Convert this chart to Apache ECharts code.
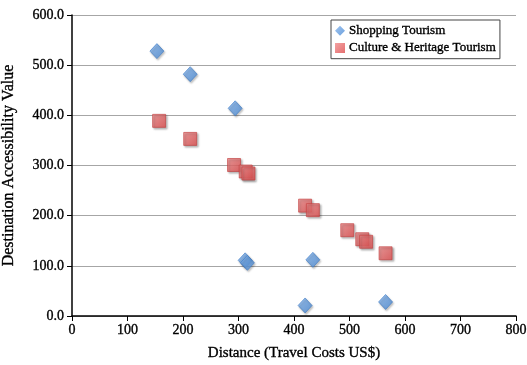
<!DOCTYPE html>
<html><head><meta charset="utf-8">
<script src="https://cdn.jsdelivr.net/npm/echarts@6/dist/echarts.min.js"></script>
<style>html,body{margin:0;padding:0;background:#fff}#c{width:527px;height:365px}</style>
</head><body><div id="c"></div>
<script>
const seriesNames = ['Shopping Tourism', 'Culture & Heritage Tourism'];
const shoppingTourism = [[153,528],[213,482],[294,414],[312,111],[316,106],[434,112],[420,21],[565,28]];
const cultureHeritage = [[157,389],[213,353],[292,301],[313,288],[318,284],[420,220],[434,211],[496,171],[523,153],[530,148],[565,125]];
const xTitle = 'Distance (Travel Costs US$)';
const yTitle = 'Destination Accessibility Value';

const FONT = 'Liberation Serif';
const heavy = {textBorderColor:'#000', textBorderWidth:0.35};
const chart = echarts.init(document.getElementById('c'), null, {renderer:'canvas'});
chart.setOption({
  animation:false,
  backgroundColor:'#fff',
  grid:{left:72,right:11,top:15,bottom:49, containLabel:false, outerBoundsMode:'none'},
  legend:{
    left:331, top:20, orient:'vertical', itemGap:4, itemWidth:10, itemHeight:10,
    padding:[4,4,4,4], borderColor:'#444', borderWidth:1, backgroundColor:'#fff',
    textStyle:Object.assign({fontFamily:FONT, fontSize:13, color:'#000', padding:[0,0,0,-1]}, heavy),
    data:[{name:seriesNames[0], icon:'diamond', itemStyle:{borderWidth:0}},{name:seriesNames[1], icon:'rect', itemStyle:{borderWidth:0}}]
  },
  xAxis:{
    type:'value', min:0, max:800, interval:100,
    name:xTitle, nameLocation:'middle', nameGap:30,
    nameTextStyle:Object.assign({fontFamily:FONT, fontSize:15, color:'#000'}, heavy),
    axisLine:{lineStyle:{color:'#000', width:1.5}},
    axisTick:{show:true, length:5, lineStyle:{color:'#000'}},
    axisLabel:Object.assign({fontFamily:FONT, fontSize:14, color:'#000', margin:7}, heavy),
    splitLine:{show:false}
  },
  yAxis:{
    type:'value', min:0, max:600, interval:100,
    name:yTitle, nameLocation:'middle', nameGap:55,
    nameTextStyle:Object.assign({fontFamily:FONT, fontSize:16, color:'#000'}, heavy),
    axisLine:{show:true, lineStyle:{color:'#000', width:1.5}},
    axisTick:{show:true, length:5, lineStyle:{color:'#000'}},
    axisLabel:Object.assign({fontFamily:FONT, fontSize:14, color:'#000', margin:8, formatter:v=>v.toFixed(1)}, heavy),
    splitLine:{show:true, lineStyle:{color:'#a6a6a6', width:1.2}}
  },
  series:[
    {name:seriesNames[0], type:'scatter', symbol:'diamond', symbolSize:[14,15], data:shoppingTourism,
     itemStyle:{color:new echarts.graphic.LinearGradient(0,0,1,1,[{offset:0,color:'#86b5ec'},{offset:1,color:'#4a8ad5'}]), borderColor:'#3f7cc6', borderWidth:0.8,
       shadowColor:'rgba(0,0,0,0.3)', shadowBlur:2, shadowOffsetX:1, shadowOffsetY:1.5}},
    {name:seriesNames[1], type:'scatter', symbol:'rect', symbolSize:13, data:cultureHeritage,
     itemStyle:{color:new echarts.graphic.LinearGradient(0,0,1,1,[{offset:0,color:'#f08b8b'},{offset:1,color:'#de4a4b'}]), borderColor:'#c23d3d', borderWidth:0.8,
       shadowColor:'rgba(0,0,0,0.35)', shadowBlur:2, shadowOffsetX:1.5, shadowOffsetY:1.5}}
  ]
});
</script></body></html>
